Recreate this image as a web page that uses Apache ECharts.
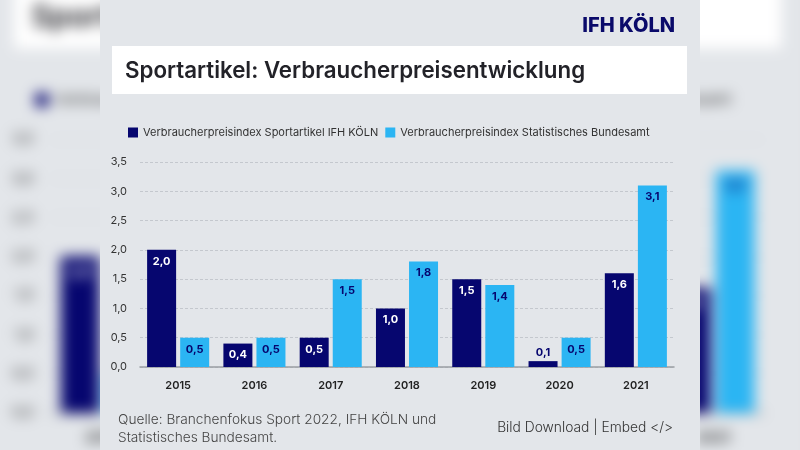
<!DOCTYPE html>
<html>
<head>
<meta charset="utf-8">
<script src="https://cdn.jsdelivr.net/npm/echarts@6/dist/echarts.min.js"></script>
<style>
  html, body { margin: 0; padding: 0; width: 800px; height: 450px; overflow: hidden; background: #e2e5e9; }
  .page { position: absolute; left: 0; top: 0; width: 800px; height: 450px; background: #e2e5e9; }
  .card { position: absolute; left: 100px; top: 0; width: 600px; height: 450px; background: #e3e6ea; }
  #bgwrap { transform: scale(1.335); transform-origin: 405px 230px; filter: blur(5px); }
</style>
</head>
<body>
<div class="page" id="bgwrap"><div class="card" id="bgchart"></div></div>
<div class="card" id="chart"></div>
<script>
const categories = ['2015', '2016', '2017', '2018', '2019', '2020', '2021'];
const ifhValues = [2.0, 0.4, 0.5, 1.0, 1.5, 0.1, 1.6];
const destatisValues = [0.5, 0.5, 1.5, 1.8, 1.4, 0.5, 3.1];
const seriesNames = ['Verbraucherpreisindex Sportartikel IFH KÖLN', 'Verbraucherpreisindex Statistisches Bundesamt'];
const titleText = 'Sportartikel: Verbraucherpreisentwicklung';
const logoText = 'IFH KÖLN';
const sourceText = 'Quelle: Branchenfokus Sport 2022, IFH KÖLN und\nStatistisches Bundesamt.';
const linkText = 'Bild Download | Embed </>';

const NAVY = '#06066f';
const SKY = '#2bb5f3';
const FONT = 'Inter, "Open Sans", sans-serif';
const fmt = v => Number(v).toFixed(1).replace('.', ',');

function buildOption() {
  return {
    animation: false,
    textStyle: { fontFamily: FONT },
    legend: {
      left: 23, top: 122,
      itemWidth: 10, itemHeight: 10, itemGap: 7,
      icon: 'rect',
      textStyle: { fontSize: 11, color: '#333', fontFamily: FONT },
      data: seriesNames
    },
    grid: { left: 40, right: 26, top: 162, bottom: 83, containLabel: false },
    xAxis: {
      type: 'category',
      data: categories,
      axisTick: { show: false },
      axisLine: { lineStyle: { color: '#9a9ea4', width: 1.5 } },
      axisLabel: { color: '#222', fontSize: 11, fontWeight: 600, margin: 13, fontFamily: FONT }
    },
    yAxis: {
      type: 'value',
      min: 0, max: 3.5, interval: 0.5,
      axisLabel: { color: '#333', fontSize: 11, margin: 13, formatter: fmt, fontFamily: FONT },
      splitLine: { lineStyle: { color: '#c4c8ce', type: [3, 2], width: 1 } },
      axisLine: { show: false }, axisTick: { show: false }
    },
    graphic: [
      { type: 'rect', shape: { x: 12, y: 46, width: 575, height: 48 }, style: { fill: '#ffffff' } },
      { type: 'text', x: 25, y: 71, style: { text: titleText, fontSize: 22.3, fontWeight: 600, fill: '#222228', fontFamily: FONT, textVerticalAlign: 'middle' } },
      { type: 'text', x: 575, y: 26, style: { text: logoText, fontSize: 20, fontWeight: 800, fill: '#0a0a6a', fontFamily: FONT, textAlign: 'right', textVerticalAlign: 'middle' } },
      { type: 'text', x: 18, y: 429, style: { text: sourceText, fontSize: 13.7, fontWeight: 300, lineHeight: 18, fill: '#444', fontFamily: FONT, textVerticalAlign: 'middle' } },
      { type: 'text', x: 573, y: 428, style: { text: linkText, fontSize: 13.8, fontWeight: 300, fill: '#333', fontFamily: FONT, textAlign: 'right', textVerticalAlign: 'middle' } }
    ],
    series: [
      {
        name: seriesNames[0], type: 'bar',
        barWidth: 29, barGap: '14%',
        itemStyle: { color: NAVY },
        label: { show: true, position: 'insideTop', distance: 6, color: '#fff', fontSize: 11, fontWeight: 700, formatter: p => fmt(p.value), fontFamily: FONT },
        data: ifhValues.map(v => v < 0.3 ? { value: v, label: { position: 'top', distance: 3, color: NAVY } } : v)
      },
      {
        name: seriesNames[1], type: 'bar',
        barWidth: 29,
        itemStyle: { color: SKY },
        label: { show: true, position: 'insideTop', distance: 6, color: NAVY, fontSize: 11, fontWeight: 700, formatter: p => fmt(p.value), fontFamily: FONT },
        data: destatisValues
      }
    ]
  };
}

const main = echarts.init(document.getElementById('chart'), null, { renderer: 'canvas' });
main.setOption(buildOption());
const bg = echarts.init(document.getElementById('bgchart'), null, { renderer: 'canvas' });
bg.setOption(buildOption());
</script>
</body>
</html>
